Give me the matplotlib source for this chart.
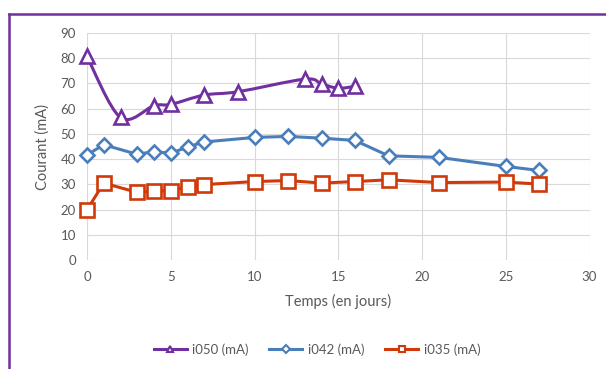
import matplotlib
matplotlib.use("Agg")
import matplotlib.pyplot as plt
from matplotlib.path import Path
from matplotlib.patches import PathPatch
from matplotlib.lines import Line2D

plt.rcParams['font.family'] = ['Lato', 'DejaVu Sans']

# i050 (mA) - smoothed line
days_050 = [0, 2, 4, 5, 7, 9, 13, 14, 15, 16]
i050 = [80.7, 56.5, 61.2, 61.7, 65.4, 66.7, 71.7, 69.8, 68.1, 68.9]

# i042 (mA)
days_042 = [0, 1, 3, 4, 5, 6, 7, 10, 12, 14, 16, 18, 21, 25, 27]
i042 = [41.7, 45.7, 41.9, 43.0, 42.3, 44.8, 46.8, 48.6, 49.0, 48.3, 47.4, 41.3, 40.7, 37.1, 35.5]

# i035 (mA)
days_035 = [0, 1, 3, 4, 5, 6, 7, 10, 12, 14, 16, 18, 21, 25, 27]
i035 = [19.9, 30.5, 26.8, 27.3, 27.5, 29.1, 29.9, 31.1, 31.5, 30.5, 31.1, 31.8, 30.7, 30.9, 30.1]

labels = ["i050 (mA)", "i042 (mA)", "i035 (mA)"]
c_purple = "#7030A0"
c_blue = "#4A7EBB"
c_red = "#D03A0A"
grey = "#595959"


def smooth_path(xs, ys):
    # Excel-style smoothed line: cubic bezier through every point
    pts = list(zip(xs, ys))
    n = len(pts)
    verts = [pts[0]]
    codes = [Path.MOVETO]
    for i in range(n - 1):
        p0 = pts[i - 1] if i > 0 else pts[i]
        p1 = pts[i]
        p2 = pts[i + 1]
        p3 = pts[i + 2] if i + 2 < n else pts[i + 1]
        c1 = (p1[0] + (p2[0] - p0[0]) / 6, p1[1] + (p2[1] - p0[1]) / 6)
        c2 = (p2[0] - (p3[0] - p1[0]) / 6, p2[1] - (p3[1] - p1[1]) / 6)
        verts += [c1, c2, p2]
        codes += [Path.CURVE4] * 3
    return Path(verts, codes)


fig = plt.figure(figsize=(6.06, 3.69), dpi=100)
ax = fig.add_axes([87 / 606, 1 - 260 / 369, (589.5 - 87) / 606, (260 - 33) / 369])

ax.add_patch(PathPatch(smooth_path(days_050, i050), facecolor="none",
                       edgecolor=c_purple, lw=2.2, zorder=3, clip_on=False))
ax.plot(days_050, i050, ls="none", marker="^", ms=9.5, mfc="white",
        mec=c_purple, mew=1.9, zorder=4, clip_on=False)
ax.plot(days_042, i042, color=c_blue, lw=2.2, marker="D", ms=7.5,
        mfc="white", mec=c_blue, mew=1.9, zorder=3, clip_on=False)
ax.plot(days_035, i035, color=c_red, lw=2.2, marker="s", ms=9.5,
        mfc="white", mec=c_red, mew=1.9, zorder=3, clip_on=False)

ax.set_xlim(0, 30)
ax.set_ylim(0, 90)
ax.set_xticks(range(0, 31, 5))
ax.set_yticks(range(0, 91, 10))
ax.grid(True, color="#D9D9D9", lw=0.8)
ax.set_axisbelow(True)
for s in ax.spines.values():
    s.set_visible(False)
ax.tick_params(length=0, labelsize=9.5, colors=grey, pad=8)
ax.set_xlabel("Temps (en jours)", fontsize=10.5, color=grey, labelpad=8)
ax.set_ylabel("Courant (mA)", fontsize=10.5, color=grey, labelpad=8)

handles = [
    Line2D([], [], color=c_purple, lw=2.2, marker="^", ms=5, mfc="white", mec=c_purple, mew=1.5),
    Line2D([], [], color=c_blue, lw=2.2, marker="D", ms=4, mfc="white", mec=c_blue, mew=1.5),
    Line2D([], [], color=c_red, lw=2.2, marker="s", ms=5, mfc="white", mec=c_red, mew=1.5),
]
fig.legend(handles, labels, loc="center", bbox_to_anchor=(0.523, 0.052), ncol=3,
           frameon=False, fontsize=9.5, labelcolor=grey, handlelength=2.5,
           columnspacing=1.6, handletextpad=0.4)

# purple chart border (left and top edges visible)
fig.add_artist(Line2D([9 / 606, 9 / 606], [0, 1 - 14 / 369], color=c_purple, lw=1.8,
                      transform=fig.transFigure))
fig.add_artist(Line2D([9 / 606, 1], [1 - 14 / 369, 1 - 14 / 369], color=c_purple, lw=1.8,
                      transform=fig.transFigure))

fig.savefig("out.png", dpi=100)
